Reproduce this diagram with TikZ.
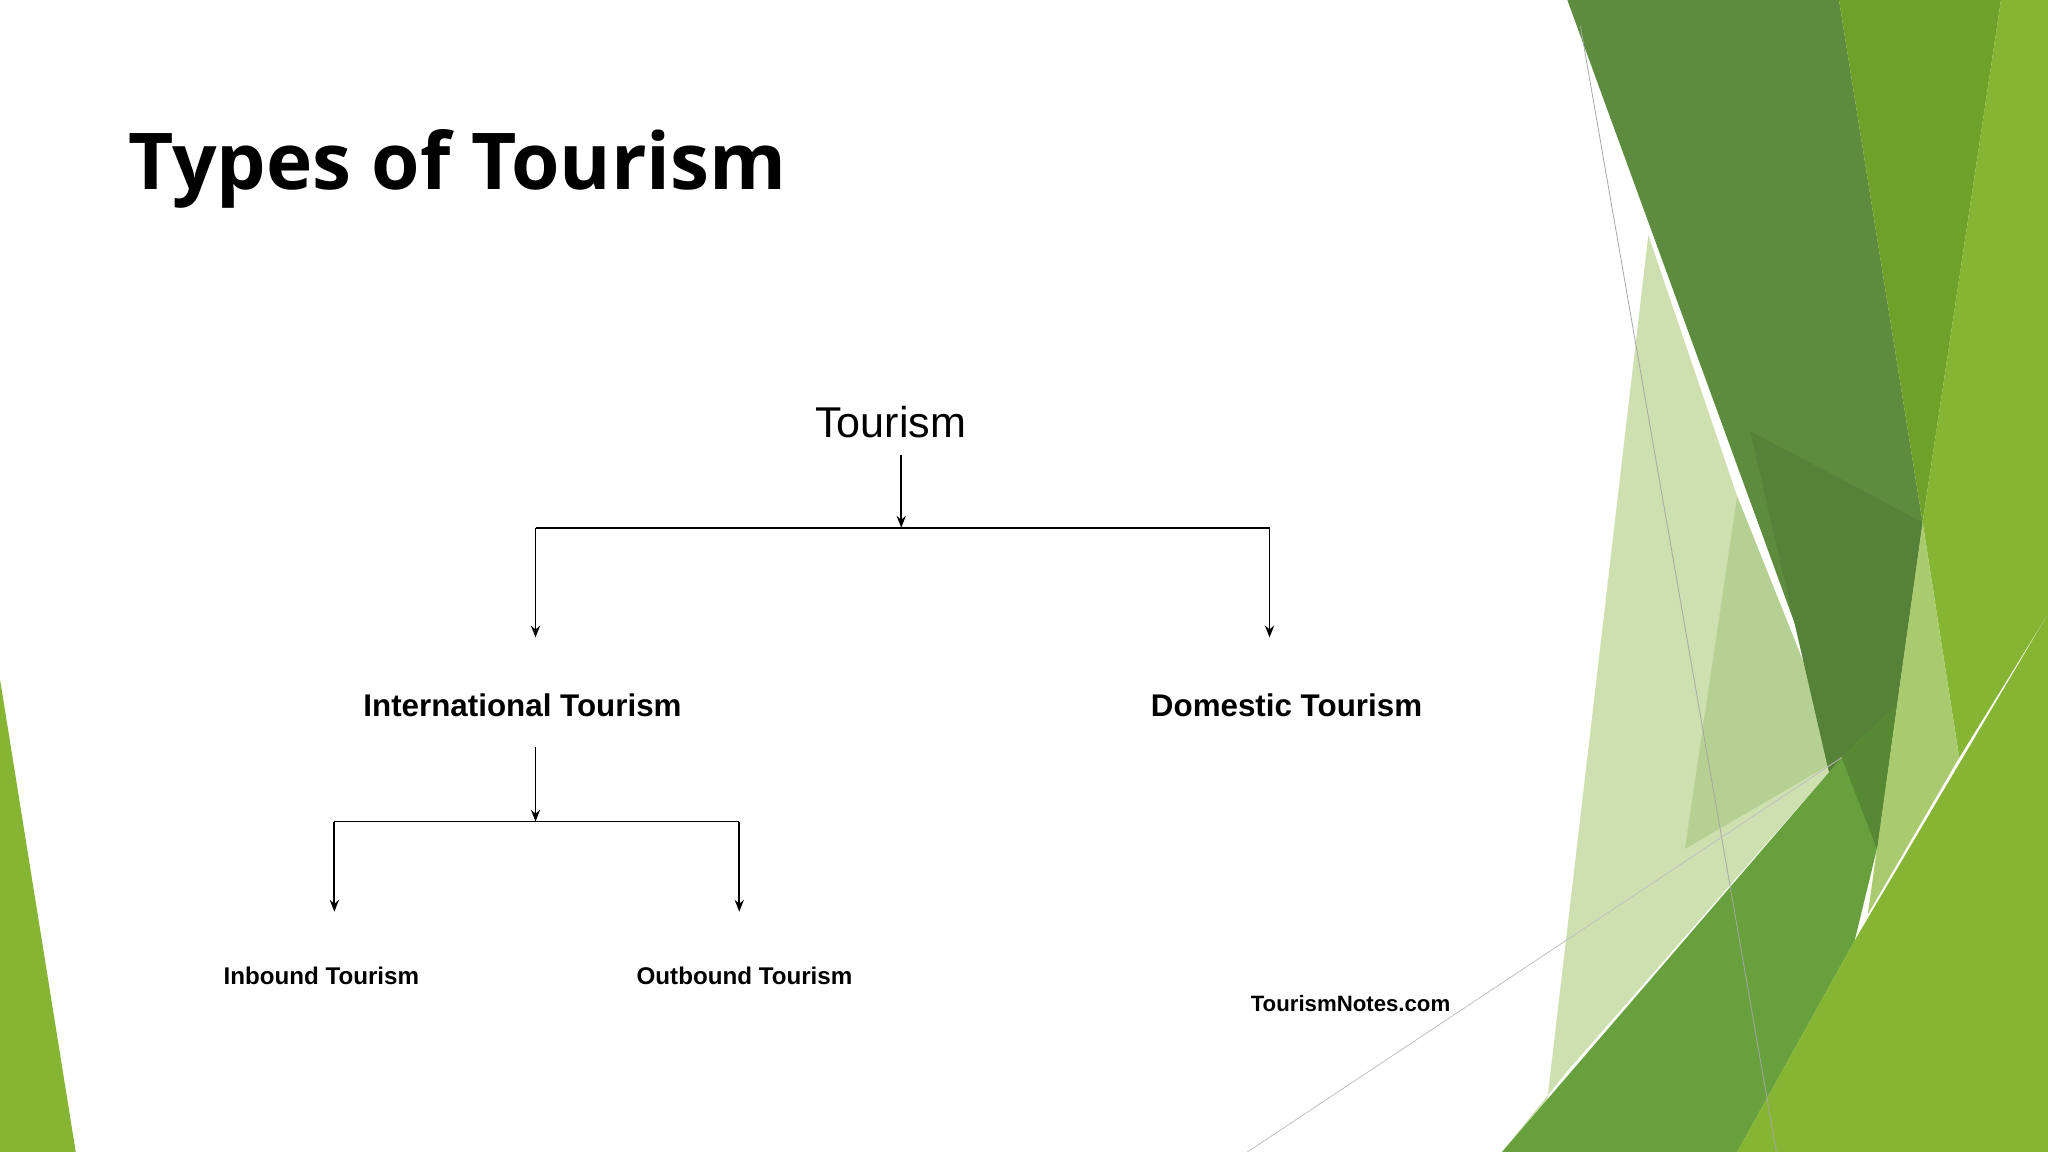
\documentclass[tikz,border=0pt]{standalone}
\usepackage{fontspec}
\setmainfont{Liberation Sans}
\newfontfamily\titlefont{Open Sans}
\usetikzlibrary{arrows.meta}
\definecolor{dkg}{HTML}{5E8C3E}
\definecolor{mdg}{HTML}{6FA02A}
\definecolor{ltg}{HTML}{86B433}
\definecolor{bg1}{HTML}{67A03C}
\definecolor{pale}{HTML}{C9DCA8}
\begin{document}
\begin{tikzpicture}[x=1pt,y=-1pt,
  conn/.style={line width=1.4pt,-{Stealth[length=9pt,width=7pt]}},
  seg/.style={line width=1.4pt},
  lbl/.style={inner sep=0pt,anchor=center}]
\fill[white] (0,0) rectangle (1568,882);
\useasboundingbox (0,0) rectangle (1568,882);
% decorative shapes
\fill[pale,fill opacity=0.9] (1262,180) -- (1330,380) -- (1410,580) -- (1200,820) -- (1150,882) -- (1180,882) -- cycle;
\fill[pale!80!bg1] (1330,380) -- (1410,580) -- (1290,650) -- cycle;
\fill[dkg] (1200,0) -- (1408,0) -- (1472,400) -- (1437,650) -- cycle;
\fill[dkg!92!black] (1340,330) -- (1472,400) -- (1437,650) -- (1400,590) -- cycle;
\fill[mdg] (1408,0) -- (1532,0) -- (1472,400) -- cycle;
\fill[ltg] (1532,0) -- (1568,0) -- (1568,470) -- (1500,580) -- (1472,400) -- cycle;
\fill[ltg!70!white] (1472,400) -- (1500,580) -- (1430,700) -- (1437,650) -- cycle;
\fill[bg1] (1150,882) -- (1410,580) -- (1452,540) -- (1437,650) -- (1420,720) -- (1330,882) -- cycle;
\fill[bg1!85!black] (1410,580) -- (1452,540) -- (1437,650) -- cycle;
\fill[ltg] (1330,882) -- (1420,720) -- (1568,470) -- (1568,882) -- cycle;
\fill[ltg] (0,520) -- (58,882) -- (0,882) -- cycle;
\draw[black!35,line width=0.6pt] (1210,20) -- (1360,882);
\draw[black!25,line width=0.6pt] (955,882) -- (1410,580);
% title
\node[lbl,anchor=base west] (title) at (98,145) {\titlefont\fontsize{60}{60}\selectfont\bfseries Types of Tourism};
% nodes
\node[lbl] (tour) at (682,323) {\fontsize{33}{33}\selectfont Tourism};
\node[lbl] (intl) at (400,540) {\fontsize{24}{24}\selectfont\bfseries International Tourism};
\node[lbl] (dom) at (985,540) {\fontsize{24}{24}\selectfont\bfseries Domestic Tourism};
\node[lbl] (inb) at (246,747) {\fontsize{18.5}{18.5}\selectfont\bfseries Inbound Tourism};
\node[lbl] (outb) at (570,747) {\fontsize{18.5}{18.5}\selectfont\bfseries Outbound Tourism};
\node[lbl] (notes) at (1034,768) {\fontsize{17}{17}\selectfont\bfseries TourismNotes.com};
% connectors
\coordinate (t0) at (690,348);
\coordinate (t1) at (690,404);
\coordinate (tl) at (410,404);
\coordinate (tr) at (972,404);
\coordinate (il) at (410,488);
\coordinate (dr) at (972,488);
\draw[conn] (t0) -- (t1);
\draw[seg] (tl) -- (tr);
\draw[conn] (tl) -- (il);
\draw[conn] (tr) -- (dr);
\coordinate (i0) at (410,572);
\coordinate (i1) at (410,629);
\coordinate (bl) at (256,629);
\coordinate (br) at (566,629);
\coordinate (ib) at (256,698);
\coordinate (ob) at (566,698);
\draw[conn] (i0) -- (i1);
\draw[seg] (bl) -- (br);
\draw[conn] (bl) -- (ib);
\draw[conn] (br) -- (ob);
\end{tikzpicture}
\end{document}
